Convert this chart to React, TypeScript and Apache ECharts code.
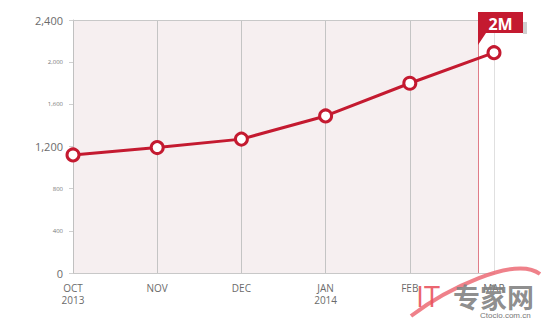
import React, { useEffect, useRef } from "react";
import * as echarts from "echarts";

const categories = ["OCT\n2013", "NOV", "DEC", "JAN\n2014", "FEB", "MAR"];
const values = [1120, 1190, 1270, 1490, 1800, 2090];
const yMin = 0;
const yMax = 2400;
const yInterval = 400;
const majorTicks = [0, 1200, 2400];
const shadedEnd = 4.81; // edge of shaded region (between FEB and MAR)
const flagText = "2M";

export default function App() {
  const ref = useRef<HTMLDivElement>(null);
  useEffect(() => {
    if (!ref.current) return;
    const chart = echarts.init(ref.current, undefined, { renderer: "svg" });
    const font = "'Open Sans', 'Noto Sans', sans-serif";
    chart.setOption({
      animation: false,
      backgroundColor: "#ffffff",
      grid: { left: 73, right: 53, top: 20, bottom: 48 },
      xAxis: {
        type: "value",
        min: 0,
        max: categories.length - 1,
        interval: 1,
        z: 3,
        axisLine: { show: true, lineStyle: { color: "#c8c8c8", width: 1 } },
        axisTick: { show: false },
        splitLine: {
          show: true,
          lineStyle: {
            color: ["#c4c4c4", "#c4c4c4", "#c4c4c4", "#c4c4c4", "#c4c4c4", "#e0e0e0"],
            width: 1,
          },
        },
        axisLabel: {
          margin: 9,
          color: "#6b6b6b",
          fontSize: 10,
          fontFamily: font,
          lineHeight: 12,
          formatter: (v: number) => categories[Math.round(v)] ?? "",
        },
      },
      yAxis: {
        type: "value",
        min: yMin,
        max: yMax,
        interval: yInterval,
        z: 3,
        axisLine: { show: true, lineStyle: { color: "#c0c0c0" } },
        axisTick: { show: true, length: 4, lineStyle: { color: "#d0d0d0" } },
        splitLine: { show: false },
        axisLabel: {
          margin: 10,
          fontFamily: font,
          formatter: (v: number) => {
            const s = v.toLocaleString("en-US");
            return majorTicks.includes(v) ? `{big|${s}}` : `{small|${s}}`;
          },
          rich: {
            big: { fontSize: 11, color: "#6b6b6b", fontFamily: font },
            small: { fontSize: 6, color: "#777777", fontFamily: font },
          },
        },
      },
      series: [
        {
          type: "line",
          z: 0,
          silent: true,
          data: [],
          markArea: {
            silent: true,
            z: 0,
            zlevel: 0,
            itemStyle: { color: "#f6eff0" },
            data: [[{ coord: [0, yMin] }, { coord: [shadedEnd, yMax] }]],
          },
        },
        {
          type: "line",
          z: 4,
          silent: true,
          data: [],
          markLine: {
            silent: true,
            z: 4,
            symbol: "none",
            label: { show: false },
            data: [
              [
                { coord: [0, yMax], lineStyle: { color: "#c8c8c8", width: 1, type: "solid" } },
                { coord: [shadedEnd, yMax] },
              ],
              [
                { coord: [shadedEnd, yMin], lineStyle: { color: "#e07c88", width: 1, type: "solid" } },
                { coord: [shadedEnd, yMax] },
              ],
            ],
          },
        },
        {
          type: "line",
          z: 5,
          data: values.map((v, i) => [i, v]),
          symbol: "circle",
          symbolSize: 12,
          showAllSymbol: true,
          lineStyle: { color: "#c41a30", width: 3 },
          itemStyle: { color: "#ffffff", borderColor: "#c41a30", borderWidth: 3 },
        },
      ],
    });

    const [fx, fy] = chart.convertToPixel({ gridIndex: 0 }, [shadedEnd, yMax]) as number[];
    const bx = fx;
    const by = fy - 8;
    const bw = 45;
    const bh = 21;
    chart.setOption({
      graphic: [
        {
          type: "rect",
          shape: { x: bx + bw, y: by + 10, width: 4, height: 12 },
          style: { fill: "#cfcfcf" },
          z: 10,
        },
        {
          type: "polygon",
          shape: {
            points: [
              [bx, by],
              [bx + bw, by],
              [bx + bw, by + bh],
              [bx + 8, by + bh],
              [bx, by + bh + 12],
            ],
          },
          style: { fill: "#c41a30" },
          z: 11,
        },
        {
          type: "text",
          x: bx + bw / 2,
          y: by + bh / 2 + 1,
          style: {
            text: flagText,
            fill: "#ffffff",
            fontSize: 16,
            fontWeight: "bold",
            fontFamily: font,
            align: "center",
            verticalAlign: "middle",
          },
          z: 12,
        },
        // watermark
        {
          type: "bezierCurve",
          shape: { x1: 411, y1: 316, cpx1: 445, cpy1: 290, cpx2: 515, cpy2: 255, x2: 540, y2: 274 },
          style: { stroke: "#ec6b76", lineWidth: 4, fill: "none", opacity: 0.85 },
          z: 20,
        },
        {
          type: "text",
          x: 416,
          y: 295,
          style: {
            text: "IT",
            fill: "#e9505c",
            fontSize: 29,
            fontFamily: "'Open Sans', sans-serif",
            verticalAlign: "middle",
            opacity: 0.9,
          },
          z: 21,
        },
        {
          type: "text",
          x: 453,
          y: 296,
          style: {
            text: "专家网",
            fill: "#808080",
            fontSize: 27,
            fontWeight: "bold",
            fontFamily: "'Noto Sans CJK SC', sans-serif",
            verticalAlign: "middle",
            opacity: 0.9,
          },
          z: 21,
        },
        {
          type: "text",
          x: 480,
          y: 315,
          style: {
            text: "Ctocio.com.cn",
            fill: "#777777",
            fontSize: 8,
            fontFamily: "Arial, 'Liberation Sans', sans-serif",
            verticalAlign: "middle",
          },
          z: 21,
        },
      ],
    });
    return () => chart.dispose();
  }, []);
  return <div ref={ref} style={{ width: 547, height: 321, position: "absolute", left: 0, top: 0 }} />;
}
